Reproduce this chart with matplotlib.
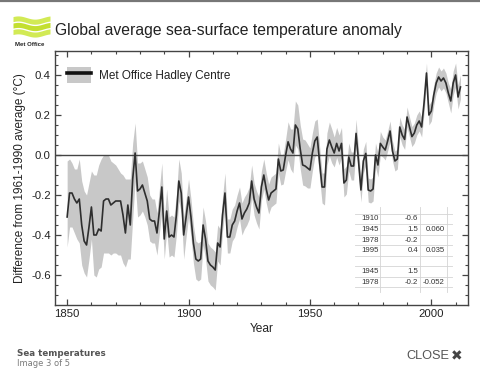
import matplotlib
matplotlib.use('Agg')
import matplotlib.pyplot as plt
from matplotlib.lines import Line2D
from matplotlib.patches import Patch, Rectangle
import numpy as np

plt.rcParams['font.family'] = ['Liberation Sans', 'DejaVu Sans']
plt.rcParams['axes.unicode_minus'] = False

# annual SST anomaly (deg C, vs 1961-1990), 1850-2012
years = np.arange(1850, 2013)
sst = [
    -0.31, -0.19, -0.19, -0.22, -0.24, -0.22, -0.35, -0.43, -0.45, -0.36,   # 1850s
    -0.26, -0.40, -0.40, -0.37, -0.38, -0.23, -0.22, -0.22, -0.25, -0.24,   # 1860s
    -0.23, -0.23, -0.23, -0.30, -0.39, -0.25, -0.35, -0.12, 0.01, -0.18,    # 1870s
    -0.17, -0.15, -0.19, -0.23, -0.32, -0.33, -0.33, -0.39, -0.28, -0.16,   # 1880s
    -0.42, -0.28, -0.41, -0.40, -0.41, -0.30, -0.13, -0.19, -0.40, -0.31,   # 1890s
    -0.21, -0.31, -0.44, -0.52, -0.53, -0.52, -0.35, -0.42, -0.53, -0.55,   # 1900s
    -0.56, -0.575, -0.44, -0.46, -0.30, -0.19, -0.41, -0.41, -0.35, -0.33,  # 1910s
    -0.28, -0.24, -0.32, -0.29, -0.27, -0.24, -0.13, -0.22, -0.26, -0.29,   # 1920s
    -0.16, -0.10, -0.17, -0.225, -0.19, -0.18, -0.17, -0.02, -0.08, -0.075, # 1930s
    0.0, 0.066, 0.03, 0.01, 0.15, 0.13, 0.03, -0.05, -0.055, -0.065,        # 1940s
    -0.075, 0.01, 0.07, 0.09, -0.04, -0.16, -0.16, 0.03, 0.075, 0.04,       # 1950s
    0.01, 0.058, 0.02, 0.058, -0.14, -0.125, -0.01, -0.055, -0.055, 0.108,  # 1960s
    -0.03, -0.175, -0.03, 0.008, -0.175, -0.18, -0.17, 0.0, -0.05, 0.058,   # 1970s
    0.04, 0.025, 0.07, 0.12, 0.02, -0.03, -0.02, 0.14, 0.10, 0.078,         # 1980s
    0.19, 0.14, 0.092, 0.11, 0.15, 0.17, 0.14, 0.26, 0.41, 0.20,            # 1990s
    0.22, 0.30, 0.36, 0.39, 0.37, 0.385, 0.36, 0.31, 0.27, 0.36,            # 2000s
    0.40, 0.29, 0.34,                                                       # 2010s
]
# uncertainty above / below the best estimate
err_hi = [
    0.28, 0.17, 0.15, 0.15, 0.17, 0.20, 0.22, 0.25, 0.25, 0.22,
    0.18, 0.30, 0.30, 0.32, 0.36, 0.23, 0.22, 0.22, 0.22, 0.20,
    0.18, 0.16, 0.14, 0.20, 0.27, 0.13, 0.23, 0.18, 0.15, 0.14,
    0.13, 0.12, 0.12, 0.12, 0.12, 0.11, 0.11, 0.10, 0.11, 0.12,
    0.10, 0.11, 0.10, 0.10, 0.10, 0.10, 0.11, 0.10, 0.09, 0.09,
    0.09, 0.09, 0.09, 0.09, 0.09, 0.09, 0.09, 0.09, 0.09, 0.09,
    0.09, 0.09, 0.09, 0.09, 0.09, 0.10, 0.09, 0.09, 0.08, 0.08,
    0.08, 0.08, 0.08, 0.08, 0.08, 0.08, 0.08, 0.08, 0.08, 0.08,
    0.08, 0.08, 0.08, 0.08, 0.08, 0.08, 0.08, 0.08, 0.08, 0.08,
    0.08, 0.10, 0.10, 0.12, 0.12, 0.12, 0.12, 0.13, 0.13, 0.12,
    0.11, 0.10, 0.10, 0.09, 0.08, 0.07, 0.07, 0.08, 0.09, 0.09,
    0.08, 0.08, 0.08, 0.08, 0.07, 0.07, 0.07, 0.07, 0.07, 0.07,
    0.06, 0.06, 0.06, 0.06, 0.06, 0.06, 0.06, 0.06, 0.06, 0.06,
    0.05, 0.05, 0.05, 0.05, 0.05, 0.05, 0.05, 0.05, 0.05, 0.05,
    0.05, 0.05, 0.05, 0.05, 0.05, 0.05, 0.05, 0.05, 0.05, 0.05,
    0.05, 0.05, 0.05, 0.05, 0.05, 0.05, 0.05, 0.05, 0.06, 0.06,
    0.06, 0.06, 0.06,
]
err_lo = [
    0.15, 0.17, 0.17, 0.17, 0.18, 0.22, 0.20, 0.16, 0.16, 0.16,
    0.16, 0.20, 0.21, 0.20, 0.18, 0.26, 0.27, 0.27, 0.25, 0.25,
    0.26, 0.27, 0.27, 0.24, 0.17, 0.27, 0.17, 0.20, 0.14, 0.13,
    0.13, 0.13, 0.12, 0.12, 0.11, 0.11, 0.11, 0.11, 0.11, 0.12,
    0.10, 0.10, 0.10, 0.10, 0.10, 0.10, 0.10, 0.10, 0.12, 0.10,
    0.10, 0.10, 0.10, 0.10, 0.10, 0.10, 0.10, 0.10, 0.10, 0.10,
    0.10, 0.10, 0.09, 0.09, 0.08, 0.08, 0.08, 0.08, 0.08, 0.08,
    0.08, 0.08, 0.08, 0.08, 0.08, 0.08, 0.08, 0.08, 0.08, 0.08,
    0.07, 0.07, 0.07, 0.07, 0.07, 0.07, 0.07, 0.07, 0.07, 0.07,
    0.08, 0.09, 0.10, 0.10, 0.10, 0.10, 0.10, 0.10, 0.10, 0.10,
    0.09, 0.09, 0.08, 0.08, 0.08, 0.08, 0.09, 0.08, 0.08, 0.08,
    0.07, 0.07, 0.07, 0.07, 0.07, 0.07, 0.07, 0.07, 0.07, 0.07,
    0.06, 0.06, 0.06, 0.06, 0.06, 0.06, 0.06, 0.06, 0.06, 0.06,
    0.05, 0.05, 0.05, 0.05, 0.05, 0.05, 0.05, 0.05, 0.05, 0.05,
    0.05, 0.05, 0.05, 0.05, 0.05, 0.05, 0.05, 0.05, 0.05, 0.05,
    0.05, 0.05, 0.05, 0.05, 0.05, 0.05, 0.05, 0.05, 0.06, 0.06,
    0.06, 0.06, 0.06,
]

# little pasted-in table
tab_years = ['1910', '1945', '1978', '1995', '', '1945', '1978']
tab_vals = ['-0.6', '1.5', '-0.2', '0.4', '', '1.5', '-0.2']
tab_rates = ['', '0.060', '', '0.035', '', '', '-0.052']

W, H = 480, 377
def fx(px):
    return px / W
def fy(py):
    return 1 - py / H

fig = plt.figure(figsize=(W / 100, H / 100), dpi=100)
fig.patch.set_facecolor('white')

# thin border line at top of the page
fig.add_artist(Line2D([0, 1], [fy(0.8), fy(0.8)], color='#777777', lw=1.6))

ax = fig.add_axes([fx(55), fy(305), fx(468) - fx(55), fy(51) - fy(305)])
sst = np.array(sst)
lo = sst - np.array(err_lo)
hi = sst + np.array(err_hi)
ax.fill_between(years, lo, hi, color='#c8c8c8', lw=0, zorder=1)
ax.axhline(0, color='#444444', lw=1.0, zorder=2)
ax.plot(years, sst, color='#2e2e2e', lw=1.2, zorder=3)

ax.set_xlim(1845, 2015.1)
ax.set_ylim(-0.75, 0.52)
ax.set_xticks([1850, 1900, 1950, 2000])
ax.set_xticks(np.arange(1850, 2015, 10), minor=True)
ax.set_yticks([-0.6, -0.4, -0.2, 0.0, 0.2, 0.4])
ax.set_yticklabels(['-0.6', '-0.4', '-0.2', '0.0', '0.2', '0.4'])
ax.set_yticks(np.arange(-0.7, 0.51, 0.05), minor=True)
ax.tick_params(which='both', direction='in', top=True, right=True,
               color='#444444', labelsize=8.2, labelcolor='#222222', pad=3)
ax.tick_params(which='major', length=4, width=0.9)
ax.tick_params(which='minor', length=2.2, width=0.8)
for s in ax.spines.values():
    s.set_color('#444444')
    s.set_linewidth(1.0)

ax.set_xlabel('Year', fontsize=8.6, color='#222222', labelpad=3)
ax.set_ylabel('Difference from 1961-1990 average (\u00b0C)', fontsize=8.5,
              color='#222222', labelpad=4)

h = (Patch(facecolor='#c8c8c8', edgecolor='none'),
     Line2D([], [], color='#111111', lw=2.6))
ax.legend([h], ['Met Office Hadley Centre'], loc='center left',
          bbox_to_anchor=(0.029, 0.906), frameon=False, fontsize=8.5,
          handlelength=2.05, handleheight=1.7, handletextpad=0.7,
          borderpad=0, borderaxespad=0, labelcolor='#222222')

# title and logo
fig.text(fx(55), fy(30), 'Global average sea-surface temperature anomaly',
         fontsize=11.3, color='#222222', va='center', ha='left')

lax = fig.add_axes([fx(13), fy(38), fx(50) - fx(13), fy(15) - fy(38)])
t = np.linspace(0, 1, 60)
for k, c in enumerate(['#d2ea55', '#c3df30', '#d2ea55']):
    base = 0.22 + k * 0.28
    wave = 0.07 * np.sin(2 * np.pi * (t * 1.1 + 0.1))
    lax.fill_between(t, base + wave - 0.11, base + wave + 0.11, color=c, lw=0)
lax.set_xlim(0, 1)
lax.set_ylim(0, 1)
lax.axis('off')
fig.text(fx(30), fy(44), 'Met Office', fontsize=4.3, fontweight='bold',
         color='#222222', ha='center', va='center')

# table overlay
row_y = [219, 229.5, 240, 250.5, 261, 271.5, 282]
for py in [214, 224, 235, 245, 256, 266, 277, 287]:
    fig.add_artist(Line2D([fx(355), fx(452)], [fy(py), fy(py)],
                          color='#d4d4d4', lw=0.6))
for px in [380, 420, 447]:
    fig.add_artist(Line2D([fx(px), fx(px)], [fy(207), fy(292)],
                          color='#d4d4d4', lw=0.6))
for py, a, b, c in zip(row_y, tab_years, tab_vals, tab_rates):
    fig.text(fx(361), fy(py), a, fontsize=5.6, color='#333333',
             ha='left', va='center')
    fig.text(fx(418), fy(py), b, fontsize=5.6, color='#333333',
             ha='right', va='center')
    fig.text(fx(445), fy(py), c, fontsize=5.6, color='#333333',
             ha='right', va='center')

# page footer
fig.text(fx(17), fy(353), 'Sea temperatures', fontsize=6.3, fontweight='bold',
         color='#555555', family='DejaVu Sans', va='center')
fig.text(fx(17), fy(364), 'Image 3 of 5', fontsize=6.0,
         color='#7a7a7a', family='DejaVu Sans', va='center')
fig.text(fx(449), fy(356), 'CLOSE', fontsize=9.2, color='#555555',
         ha='right', va='center')
fig.text(fx(457), fy(356), '\u2716', fontsize=10, color='#444444',
         family='DejaVu Sans', ha='center', va='center')

fig.savefig('out.png', dpi=100, facecolor='white')
